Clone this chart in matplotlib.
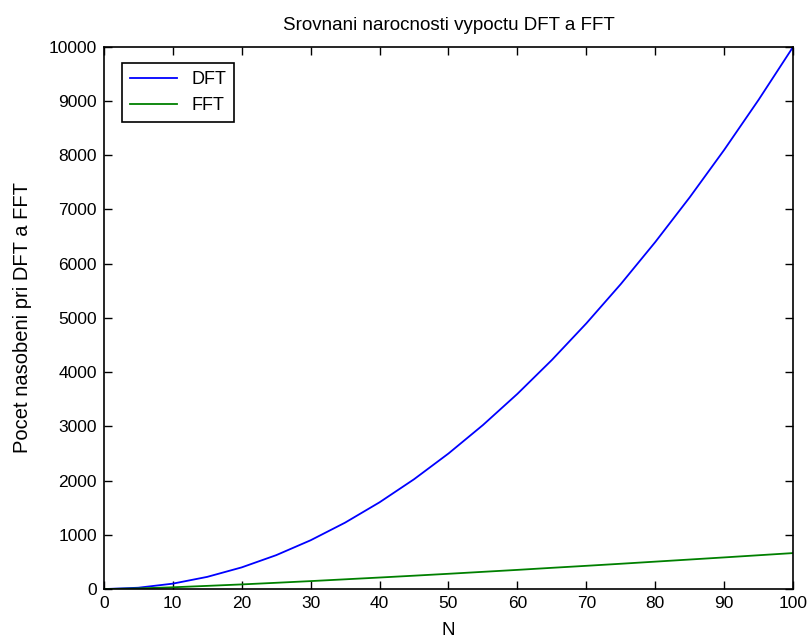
import matplotlib
matplotlib.use("Agg")
import matplotlib.pyplot as plt

# values
n_vals = [0, 5, 10, 15, 20, 25, 30, 35, 40, 45, 50,
          55, 60, 65, 70, 75, 80, 85, 90, 95, 100]
dft_vals = [0, 25, 100, 225, 400, 625, 900, 1225, 1600, 2025, 2500,
            3025, 3600, 4225, 4900, 5625, 6400, 7225, 8100, 9025, 10000]
fft_vals = [0, 12, 33, 59, 86, 116, 147, 180, 213, 247, 282,
            318, 354, 392, 429, 467, 506, 545, 584, 624, 664]

x_ticks = list(range(0, 101, 10))
y_ticks = list(range(0, 10001, 1000))

title = "Srovnani narocnosti vypoctu DFT a FFT"
xlabel = "N"
ylabel = "Pocet nasobeni pri DFT a FFT"

plt.rcParams["font.family"] = ["Liberation Sans", "DejaVu Sans"]
plt.rcParams["font.size"] = 12

fig = plt.figure(figsize=(8.11, 6.41), dpi=100)
ax = fig.add_axes([0.128, 0.081, 0.850, 0.846])

ax.plot(n_vals, dft_vals, color=(0, 0, 1), lw=1.3, label="DFT")
ax.plot(n_vals, fft_vals, color=(0, 0.5, 0), lw=1.3, label="FFT")

ax.set_xlim(0, 100)
ax.set_ylim(0, 10000)
ax.set_xticks(x_ticks)
ax.set_yticks(y_ticks)
ax.tick_params(direction="in", top=True, right=True, length=6, width=1,
               labelsize=12.5, pad=5)
for sp in ax.spines.values():
    sp.set_linewidth(1.2)

ax.set_title(title, fontsize=13.5, pad=12)
ax.set_xlabel(xlabel, fontsize=13.5, labelpad=8)
ax.set_ylabel(ylabel, fontsize=14.5, labelpad=12)

leg = ax.legend(loc="upper left", bbox_to_anchor=(0.026, 0.970), borderaxespad=0,
                fancybox=False, framealpha=1, edgecolor="black", fontsize=13,
                handlelength=2.6, borderpad=0.45, labelspacing=0.5)
leg.get_frame().set_linewidth(1.2)

fig.savefig("out.png", dpi=100)
